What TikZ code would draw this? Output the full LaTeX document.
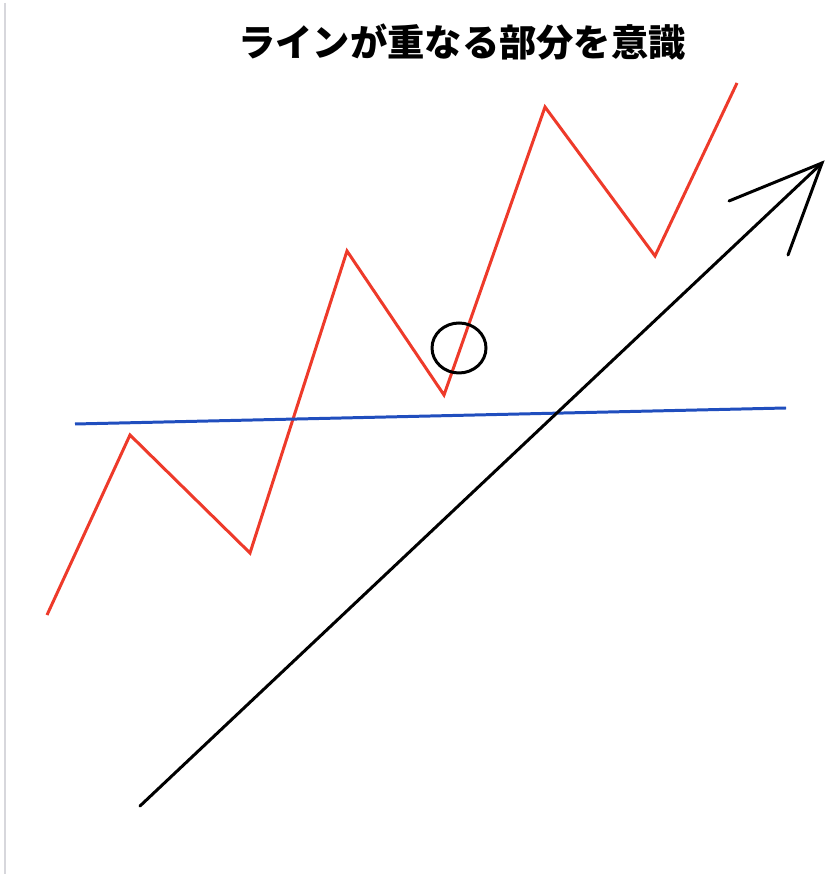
\documentclass[tikz,border=0pt]{standalone}
\usepackage{fontspec}
\usepackage{tikz}
\usetikzlibrary{positioning, calc}
\newfontfamily\jpfont{Noto Sans CJK JP}
\definecolor{ZigRed}{RGB}{238, 58, 42}
\definecolor{LineBlue}{RGB}{32, 78, 190}
\definecolor{EdgeGray}{RGB}{215, 215, 220}

\tikzset{
  zigline/.style={draw=ZigRed, line width=0.85pt, line join=miter},
  levelline/.style={draw=LineBlue, line width=0.85pt},
  trendline/.style={draw=black, line width=0.85pt, line cap=round},
  markring/.style={draw=black, line width=0.85pt}
}

\begin{document}
\begin{tikzpicture}[x=0.01cm, y=-0.01cm]
    \useasboundingbox[fill=white] (0,0) rectangle (824,874);
    \draw[EdgeGray, line width=0.3pt] (5,3) -- (5,874);

    % title
    \node (title) at (462,42) {\jpfont\bfseries\fontsize{10.6}{12}\selectfont ラインが重なる部分を意識};

    % zigzag price line
    \coordinate (p1) at (47,615);
    \coordinate (p2) at (130,435);
    \coordinate (p3) at (250,553);
    \coordinate (p4) at (347,251);
    \coordinate (p5) at (444,395);
    \coordinate (p6) at (545,107);
    \coordinate (p7) at (655,256);
    \coordinate (p8) at (737,83);
    \draw[zigline] (p1) -- (p2) -- (p3) -- (p4) -- (p5) -- (p6) -- (p7) -- (p8);

    % horizontal line
    \coordinate (levelA) at (75,424);
    \coordinate (levelB) at (786,408);
    \draw[levelline] (levelA) -- (levelB);

    % trend arrow
    \coordinate (trendA) at (140,806);
    \coordinate (tip) at (822,163);
    \coordinate (wingL) at (729,201);
    \coordinate (wingR) at (788,255);
    \draw[trendline] (trendA) -- (tip);
    \draw[trendline, line join=miter] (wingL) -- (tip) -- (wingR);

    % overlap mark
    \coordinate (ring) at (459,348);
    \draw[markring] (ring) ellipse [x radius=27, y radius=25];
\end{tikzpicture}
\end{document}
